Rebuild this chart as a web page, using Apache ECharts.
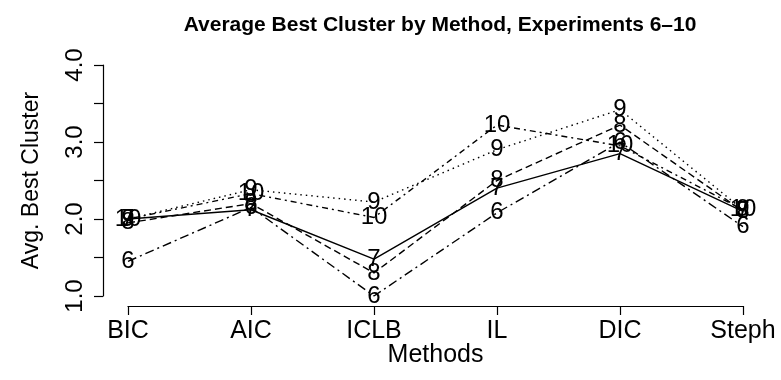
<!DOCTYPE html>
<html>
<head>
<meta charset="utf-8">
<script src="https://cdn.jsdelivr.net/npm/echarts@6/dist/echarts.min.js"></script>
<style>
  html, body { margin: 0; padding: 0; background: #fff; }
  #chart { width: 781px; height: 380px; }
</style>
</head>
<body>
<div id="chart"></div>
<script>
// Methods on the x axis
const methods = ['BIC', 'AIC', 'ICLB', 'IL', 'DIC', 'Steph'];

// Average best cluster per method, one array per experiment
const exp6  = [1.45, 2.15, 1.00, 2.08, 3.00, 1.90];
const exp7  = [2.00, 2.12, 1.48, 2.40, 2.85, 2.10];
const exp8  = [1.95, 2.20, 1.30, 2.50, 3.22, 2.10];
const exp9  = [2.00, 2.38, 2.22, 2.90, 3.42, 2.12];
const exp10 = [2.00, 2.33, 2.02, 3.22, 2.95, 2.12];

// Labelled y ticks
const yTickLabels = ['1.0', '2.0', '3.0', '4.0'];

const font = 'Liberation Sans, Arial, Helvetica, sans-serif';

const experiments = [
  { name: '6',  data: exp6,  dash: [9, 4, 2, 4] },
  { name: '7',  data: exp7,  dash: 'solid' },
  { name: '8',  data: exp8,  dash: [7, 4] },
  { name: '9',  data: exp9,  dash: [1.5, 4] },
  { name: '10', data: exp10, dash: [2, 4, 6, 4] }
];

const chart = echarts.init(document.getElementById('chart'), null, { renderer: 'canvas' });

chart.setOption({
  animation: false,
  backgroundColor: '#ffffff',
  title: {
    text: 'Average Best Cluster by Method, Experiments 6\u201310',
    left: 435,
    top: 10,
    textAlign: 'center',
    textStyle: { fontFamily: font, fontWeight: 'bold', fontSize: 21, color: '#000' }
  },
  grid: { left: 128, top: 65, width: 615, height: 231, containLabel: false },
  xAxis: {
    type: 'category',
    data: methods,
    boundaryGap: false,
    offset: 10,
    name: 'Methods',
    nameLocation: 'middle',
    nameGap: 37,
    nameMoveOverlap: false,
    nameTextStyle: { fontFamily: font, fontSize: 25, color: '#000' },
    axisLine: { show: true, lineStyle: { color: '#000', width: 1.2 } },
    axisTick: { show: true, alignWithLabel: true, length: 9, lineStyle: { color: '#000', width: 1.2 } },
    axisLabel: { fontFamily: font, fontSize: 25, color: '#000', margin: 13, interval: 0 },
    splitLine: { show: false }
  },
  yAxis: {
    type: 'value',
    min: 1,
    max: 4,
    interval: 0.5,
    offset: 25,
    name: 'Avg. Best Cluster',
    nameLocation: 'middle',
    nameGap: 60,
    nameRotate: 90,
    nameMoveOverlap: false,
    nameTextStyle: { fontFamily: font, fontSize: 23, color: '#000' },
    axisLine: { show: true, lineStyle: { color: '#000', width: 1.2 } },
    axisTick: { show: true, length: 9, lineStyle: { color: '#000', width: 1.2 } },
    axisLabel: {
      fontFamily: font, fontSize: 24, color: '#000', rotate: 90, margin: 16,
      formatter: function (v) {
        const s = v.toFixed(1);
        return yTickLabels.indexOf(s) >= 0 ? s : '';
      }
    },
    splitLine: { show: false }
  },
  series: experiments.map(function (e) {
    return {
      name: e.name,
      type: 'line',
      data: e.data,
      symbol: 'circle',
      symbolSize: 1,
      showSymbol: true,
      itemStyle: { color: 'rgba(0,0,0,0)' },
      lineStyle: { color: '#000', width: 1.4, type: e.dash },
      label: {
        show: true,
        position: 'inside',
        formatter: e.name,
        fontFamily: font,
        fontSize: 24,
        color: '#000'
      },
      emphasis: { disabled: true },
      z: 2
    };
  })
});
</script>
</body>
</html>
